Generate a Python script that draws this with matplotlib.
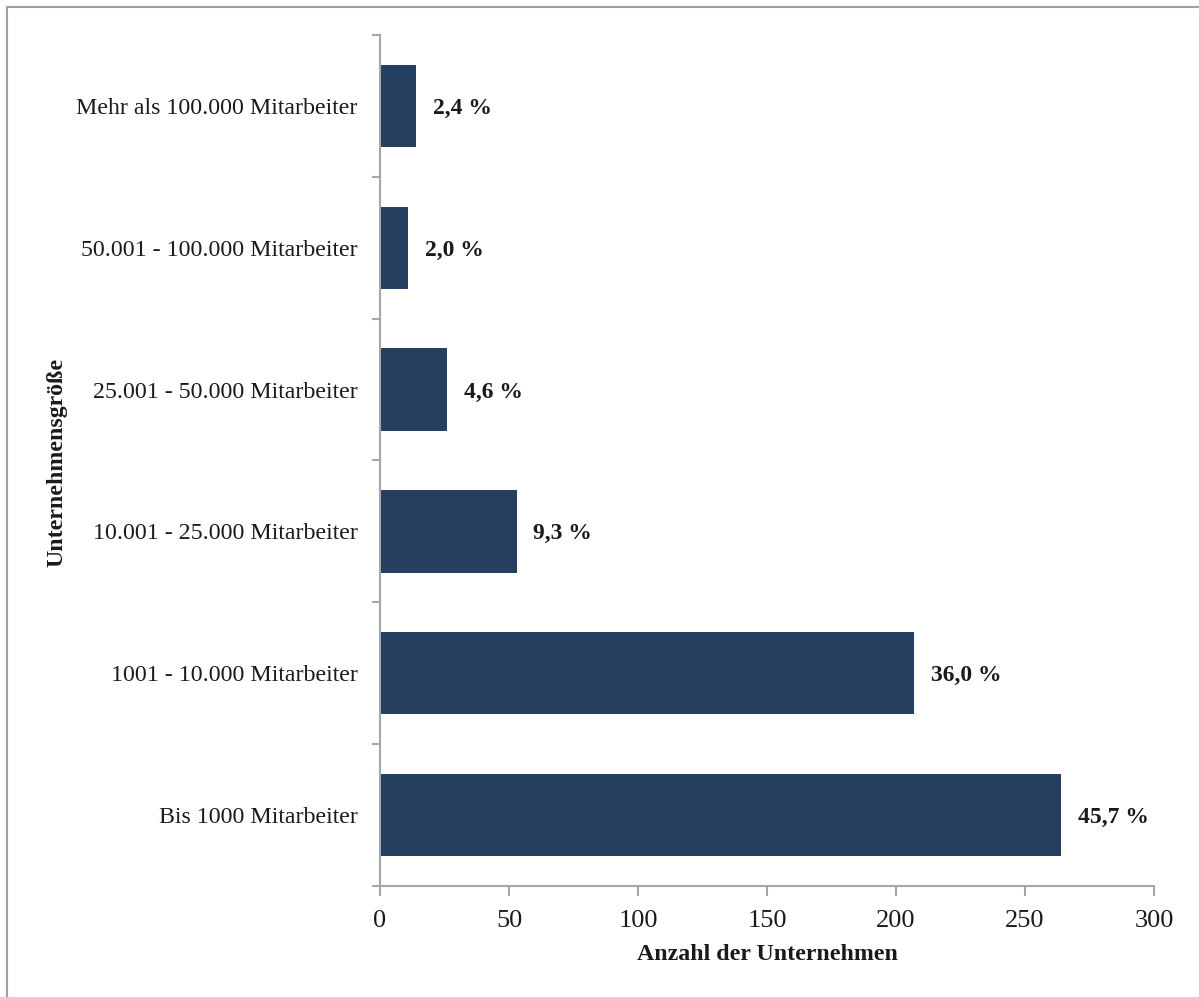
import matplotlib.pyplot as plt
from matplotlib.patches import Rectangle

plt.rcParams['font.family'] = ['Liberation Serif', 'DejaVu Serif']

# Unternehmen je Größenklasse (von unten nach oben)
groessen = ['Bis 1000 Mitarbeiter', '1001 - 10.000 Mitarbeiter',
            '10.001 - 25.000 Mitarbeiter', '25.001 - 50.000 Mitarbeiter',
            '50.001 - 100.000 Mitarbeiter', 'Mehr als 100.000 Mitarbeiter']
anzahl = [264, 207, 53, 26, 11, 14]
anteile = ['45,7 %', '36,0 %', '9,3 %', '4,6 %', '2,0 %', '2,4 %']

balken_farbe = '#243f5f'
achsen_farbe = '#a6a6a6'

fig = plt.figure(figsize=(11.99, 9.97), dpi=100)
ax = fig.add_axes([380 / 1199, 1 - 886 / 997, 774 / 1199, 851 / 997])

# grauer Rahmen um die Grafik
fig.patches.append(Rectangle((7 / 1199, -0.1), 1.2, 1 - 7 / 997 + 0.1,
                             transform=fig.transFigure, fill=False,
                             edgecolor='#a0a0a0', linewidth=1.5))

pos = range(len(groessen))
ax.barh(pos, anzahl, height=0.58, color=balken_farbe)

for y, v, t in zip(pos, anzahl, anteile):
    ax.annotate(t, (v, y), xytext=(12, 0), textcoords='offset points',
                ha='left', va='center_baseline', fontsize=17, fontweight='bold',
                color='#1a1a1a')

ax.set_xlim(0, 300)
ax.set_ylim(-0.5, len(groessen) - 0.5)
ax.set_xticks(range(0, 301, 50))
ax.set_yticks(pos)
ax.set_yticklabels(groessen)
# Striche zwischen den Kategorien
ax.set_yticks([p - 0.5 for p in range(len(groessen) + 1)], minor=True)
ax.tick_params(axis='y', which='major', length=0, pad=16, labelsize=17.2,
               labelcolor='#1a1a1a')
ax.tick_params(axis='y', which='minor', length=6, width=1.5, color=achsen_farbe)
ax.tick_params(axis='x', length=7, width=1.5, color=achsen_farbe, pad=10,
               labelsize=19, labelcolor='#1a1a1a')

for s in ['top', 'right']:
    ax.spines[s].set_visible(False)
for s in ['left', 'bottom']:
    ax.spines[s].set_color(achsen_farbe)
    ax.spines[s].set_linewidth(1.5)

ax.set_xlabel('Anzahl der Unternehmen', fontsize=17.2, fontweight='bold',
              color='#1a1a1a', labelpad=9)
fig.text(57 / 1199, 1 - 462 / 997, 'Unternehmensgröße', rotation=90,
         ha='center', va='center', fontsize=17.2, fontweight='bold',
         color='#1a1a1a')

fig.savefig('out.png', dpi=100)
